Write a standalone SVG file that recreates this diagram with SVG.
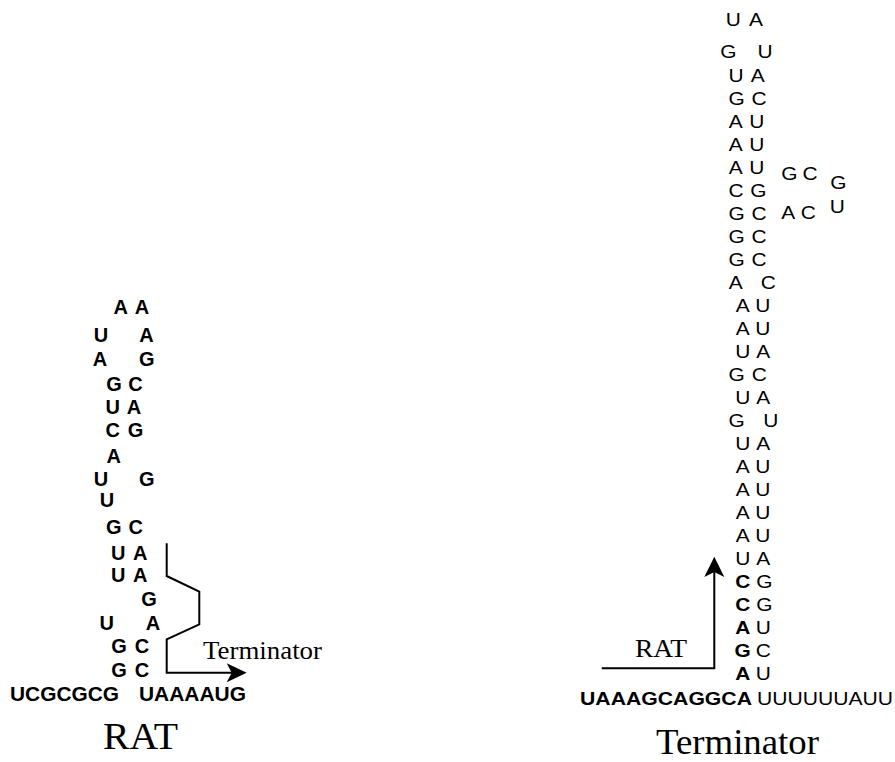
<svg xmlns="http://www.w3.org/2000/svg" width="895" height="762" viewBox="0 0 895 762">
  <style>
    .b { font-family: "Liberation Sans", Arial, sans-serif; font-weight: bold; font-size: 20px; text-anchor: middle; fill: #000; }
    .r { font-family: "Liberation Sans", Arial, sans-serif; font-size: 19px; text-anchor: middle; fill: #000;
         transform-box: fill-box; transform-origin: center; transform: scaleX(1.1); }
    .rb { font-weight: bold; }
    .seq { font-family: "Liberation Sans", Arial, sans-serif; font-size: 19px; fill: #000; }
    .lbl { font-family: "Liberation Serif", "Times New Roman", serif; fill: #000; }
    .line { fill: none; stroke: #000; stroke-width: 2; }
    .head { fill: #000; stroke: none; }
  </style>

  <!-- RAT hairpin (left, bold) -->
  <g id="rat-hairpin">
    <text class="b" x="120.7" y="313.7">A</text><text class="b" x="142" y="313.7">A</text>
    <text class="b" x="101" y="342.3">U</text><text class="b" x="146.5" y="342.3">A</text>
    <text class="b" x="100" y="365.8">A</text><text class="b" x="146.7" y="365.8">G</text>
    <text class="b" x="114" y="390.8">G</text><text class="b" x="135.5" y="390.8">C</text>
    <text class="b" x="112.7" y="414">U</text><text class="b" x="134" y="414">A</text>
    <text class="b" x="112.7" y="437">C</text><text class="b" x="135.5" y="437">G</text>
    <text class="b" x="113.7" y="462.8">A</text>
    <text class="b" x="101" y="485.8">U</text><text class="b" x="146.7" y="485.8">G</text>
    <text class="b" x="107" y="507">U</text>
    <text class="b" x="113.7" y="533.7">G</text><text class="b" x="135.8" y="533.7">C</text>
    <text class="b" x="118.3" y="559.7">U</text><text class="b" x="140.3" y="559.7">A</text>
    <text class="b" x="118.3" y="582">U</text><text class="b" x="140.3" y="582">A</text>
    <text class="b" x="149" y="605.8">G</text>
    <text class="b" x="106.7" y="630.3">U</text><text class="b" x="153" y="630.3">A</text>
    <text class="b" x="119" y="653">G</text><text class="b" x="142" y="653">C</text>
    <text class="b" x="119" y="677">G</text><text class="b" x="142" y="677">C</text>
    <text class="b" x="10" y="700.5" style="text-anchor:start" textLength="109" lengthAdjust="spacingAndGlyphs">UCGCGCG</text>
    <text class="b" x="139" y="700.5" style="text-anchor:start" textLength="107" lengthAdjust="spacingAndGlyphs">UAAAAUG</text>
    <text class="lbl" x="103" y="749" font-size="37" textLength="75" lengthAdjust="spacingAndGlyphs">RAT</text>
  </g>

  <!-- Terminator hairpin (right) -->
  <g id="terminator-hairpin">
    <text class="r" x="733.3" y="26">U</text><text class="r" x="756" y="26">A</text>
    <text class="r" x="728.3" y="58.3">G</text><text class="r" x="765" y="58.3">U</text>
    <text class="r" x="736" y="82.1">U</text><text class="r" x="757.7" y="82.1">A</text>
    <text class="r" x="736.7" y="105.1">G</text><text class="r" x="759" y="105.1">C</text>
    <text class="r" x="735.7" y="128.1">A</text><text class="r" x="756.7" y="128.1">U</text>
    <text class="r" x="735.7" y="151.1">A</text><text class="r" x="756.7" y="151.1">U</text>
    <text class="r" x="735.7" y="174.1">A</text><text class="r" x="756.7" y="174.1">U</text>
    <text class="r" x="736" y="197.1">C</text><text class="r" x="758.3" y="197.1">G</text>
    <text class="r" x="736.7" y="220.1">G</text><text class="r" x="759" y="220.1">C</text>
    <text class="r" x="736.7" y="243.1">G</text><text class="r" x="759" y="243.1">C</text>
    <text class="r" x="736.7" y="266.1">G</text><text class="r" x="759" y="266.1">C</text>
    <text class="r" x="735.7" y="289.1">A</text><text class="r" x="768.3" y="289.1">C</text>
    <text class="r" x="742.7" y="312.1">A</text><text class="r" x="762.7" y="312.1">U</text>
    <text class="r" x="742.7" y="335.1">A</text><text class="r" x="762.7" y="335.1">U</text>
    <text class="r" x="742.7" y="358.1">U</text><text class="r" x="763.3" y="358.1">A</text>
    <text class="r" x="736.7" y="381.1">G</text><text class="r" x="759.3" y="381.1">C</text>
    <text class="r" x="742.7" y="404.1">U</text><text class="r" x="763.3" y="404.1">A</text>
    <text class="r" x="736.7" y="427.1">G</text><text class="r" x="770.7" y="427.1">U</text>
    <text class="r" x="742.7" y="450.1">U</text><text class="r" x="763.3" y="450.1">A</text>
    <text class="r" x="742.7" y="473.1">A</text><text class="r" x="762.7" y="473.1">U</text>
    <text class="r" x="742.7" y="496.1">A</text><text class="r" x="762.7" y="496.1">U</text>
    <text class="r" x="742.7" y="519.1">A</text><text class="r" x="762.7" y="519.1">U</text>
    <text class="r" x="742.7" y="542.1">A</text><text class="r" x="762.7" y="542.1">U</text>
    <text class="r" x="742.7" y="565.1">U</text><text class="r" x="763.3" y="565.1">A</text>
    <text class="r rb" x="742.7" y="588.1">C</text><text class="r" x="764.3" y="588.1">G</text>
    <text class="r rb" x="742.7" y="611.1">C</text><text class="r" x="764.3" y="611.1">G</text>
    <text class="r rb" x="742.7" y="634.1">A</text><text class="r" x="763.3" y="634.1">U</text>
    <text class="r rb" x="742.7" y="657.1">G</text><text class="r" x="763.3" y="657.1">C</text>
    <text class="r rb" x="742.7" y="680.1">A</text><text class="r" x="763.3" y="680.1">U</text>
    <!-- side loop -->
    <text class="r" x="789.3" y="180.1">G</text><text class="r" x="810" y="180.1">C</text>
    <text class="r" x="838.3" y="189.3">G</text>
    <text class="r" x="837.3" y="212.6">U</text>
    <text class="r" x="788.3" y="219.3">A</text><text class="r" x="808.3" y="219.3">C</text>
    <!-- flanking sequence -->
    <text class="seq" x="580" y="705" font-weight="bold" textLength="172" lengthAdjust="spacingAndGlyphs">UAAAGCAGGCA</text>
    <text class="seq" x="757" y="705" textLength="136" lengthAdjust="spacingAndGlyphs">UUUUUUAUU</text>
    <text class="lbl" x="656" y="754" font-size="35" textLength="163" lengthAdjust="spacingAndGlyphs">Terminator</text>
  </g>

  <!-- Connectors: conformational-switch arrows -->
  <g id="connectors">
    <path class="line" d="M166.7,543.3 V576 L199.3,591.7 V624.3 L166.7,639.3 V672.7 H232"/>
    <path class="head" d="M246.7,672.7 L226.7,663.2 L231.7,672.7 L226.7,682.2 Z"/>
    <text class="lbl" x="203" y="659" font-size="25" textLength="119" lengthAdjust="spacingAndGlyphs">Terminator</text>

    <path class="line" d="M601.7,668.3 H714.3 V572"/>
    <path class="head" d="M714.3,556.7 L704.3,577 L714.3,572 L724.3,577 Z"/>
    <text class="lbl" x="635" y="656.7" font-size="24.5" textLength="52" lengthAdjust="spacingAndGlyphs">RAT</text>
  </g>
</svg>
